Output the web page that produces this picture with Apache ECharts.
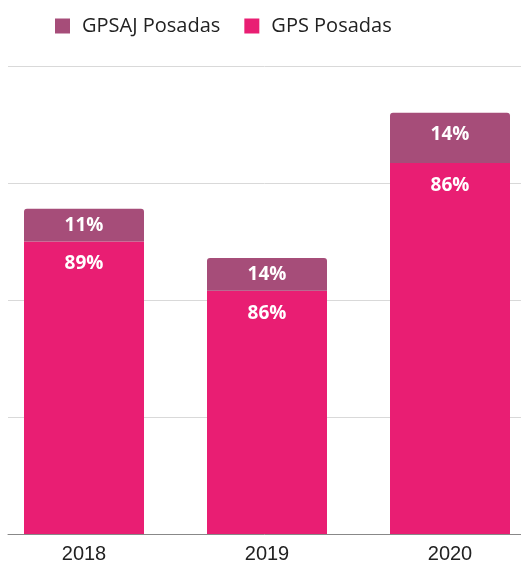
<!DOCTYPE html>
<html lang="en">
<head>
    <meta charset="UTF-8">
    <title>GPS Posadas</title>
    <script src="https://cdn.jsdelivr.net/npm/echarts@6/dist/echarts.min.js"></script>
</head>
<style>
    * { margin: 0; padding: 0; }
    html, body { width: 100%; height: 100%; background: #fff; }
    #main { width: 521px; height: 565px; }
</style>
<body>
<div id="main"></div>
<script>
    var years = ['2018', '2019', '2020'];
    var seriesNames = ['GPSAJ Posadas', 'GPS Posadas'];
    // bar heights (arbitrary units, gridline = 100)
    var gpsValues = [250, 208, 317];
    var gpsajValues = [28, 28, 43];
    // labels printed on the bars
    var gpsLabels = ['89%', '86%', '86%'];
    var gpsajLabels = ['11%', '14%', '14%'];
    var yTicks = [0, 100, 200, 300, 400];

    var pink = '#e91e73';
    var mauve = '#a64d79';

    var myChart = echarts.init(document.getElementById('main'));

    var labelStyle = {
        show: true,
        color: '#fff',
        fontFamily: 'Open Sans',
        fontWeight: 'bold',
        fontSize: 19
    };

    var option = {
        animation: false,
        legend: {
            left: 50,
            top: 11,
            itemWidth: 15,
            itemHeight: 15,
            itemGap: 24,
            icon: 'rect',
            data: seriesNames,
            textStyle: { fontFamily: 'Open Sans', fontSize: 20, color: '#222', padding: [0, 0, 0, 7] }
        },
        grid: [
            { left: -7.5, right: -20.5, top: 66, bottom: 31, outerBoundsMode: 'none' },
            { left: 8, right: 0, top: 66, bottom: 31, outerBoundsMode: 'none' }
        ],
        xAxis: [
            {
                type: 'category',
                gridIndex: 0,
                data: years,
                axisLine: { show: false },
                axisTick: { show: false },
                axisLabel: { margin: 10, fontFamily: 'Liberation Sans', fontSize: 20, color: '#222' }
            },
            {
                type: 'value',
                gridIndex: 1,
                min: 0,
                max: 1,
                z: 5,
                axisLine: { show: true, lineStyle: { color: '#888', width: 1 } },
                axisTick: { show: false },
                axisLabel: { show: false },
                splitLine: { show: false }
            }
        ],
        yAxis: [
            {
                type: 'value',
                gridIndex: 0,
                min: yTicks[0],
                max: yTicks[yTicks.length - 1],
                interval: 100,
                axisLabel: { show: false },
                axisLine: { show: false },
                axisTick: { show: false },
                splitLine: { show: false }
            },
            {
                type: 'value',
                gridIndex: 1,
                min: yTicks[0],
                max: yTicks[yTicks.length - 1],
                interval: 100,
                axisLabel: { show: false },
                axisLine: { show: false },
                axisTick: { show: false },
                splitLine: { show: true, lineStyle: { color: '#d9d9d9', width: 1 } }
            }
        ],
        series: [
            {
                name: seriesNames[1],
                type: 'bar',
                stack: 'total',
                xAxisIndex: 0,
                yAxisIndex: 0,
                barWidth: 120,
                itemStyle: { color: pink },
                label: Object.assign({}, labelStyle, {
                    position: 'insideTop',
                    distance: 13,
                    formatter: function (p) { return gpsLabels[p.dataIndex]; }
                }),
                data: gpsValues
            },
            {
                name: seriesNames[0],
                type: 'bar',
                stack: 'total',
                xAxisIndex: 0,
                yAxisIndex: 0,
                barWidth: 120,
                itemStyle: { color: mauve, borderRadius: [3, 3, 0, 0] },
                label: Object.assign({}, labelStyle, {
                    position: 'inside',
                    formatter: function (p) { return gpsajLabels[p.dataIndex]; }
                }),
                data: gpsajValues.map(function (v, i) {
                    if (i == 2) return { value: v, label: { position: 'insideTop', distance: 12 } };
                    return v;
                })
            }
        ]
    };
    myChart.setOption(option);
</script>
</body>
</html>
